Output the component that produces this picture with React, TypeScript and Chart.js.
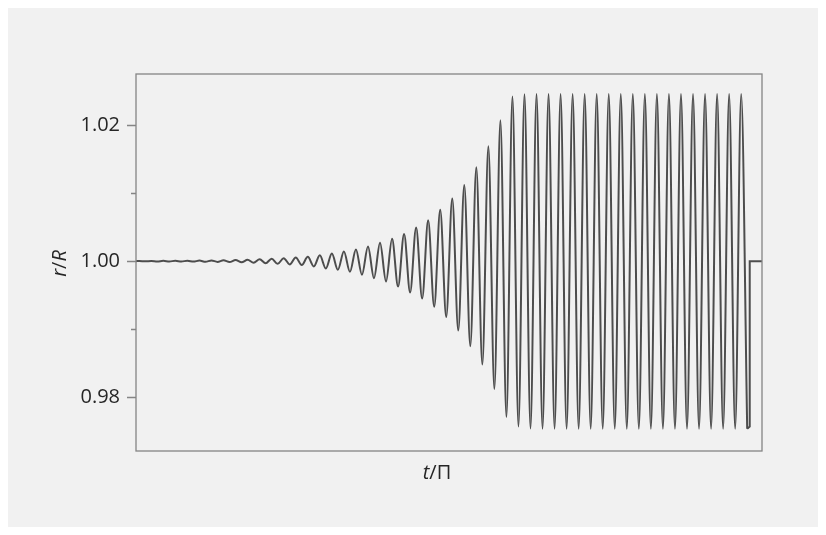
import React, { useEffect, useRef } from 'react';
import { Chart, registerables } from 'chart.js';

Chart.register(...registerables);

// ---- Data ----
// x axis in units of t/Π (oscillation periods), y axis r/R
const X_MIN = 0;
const X_MAX = 52;
const Y_MIN = 0.9721;
const Y_MAX = 1.0275;
const Y_MAJOR_TICKS = [0.98, 1.0, 1.02];
const Y_MINOR_TICKS = [0.99, 1.01];
const Y_TICK_LABELS = ['0.98', '1.00', '1.02'];

const START_TIME = 0;
const START_VALUE = 1.0;

// time of each maximum / minimum (in periods)
const PEAK_TIMES = [
  0.27, 1.27, 2.27, 3.27, 4.27, 5.27, 6.27, 7.27, 8.27, 9.27,
  10.27, 11.27, 12.27, 13.27, 14.27, 15.27, 16.27, 17.27, 18.27, 19.27,
  20.27, 21.27, 22.27, 23.27, 24.27, 25.27, 26.27, 27.27, 28.27, 29.27,
  30.27, 31.27, 32.27, 33.27, 34.27, 35.27, 36.27, 37.27, 38.27, 39.27,
  40.27, 41.27, 42.27, 43.27, 44.27, 45.27, 46.27, 47.27, 48.27, 49.27, 50.27,
];
const TROUGH_TIMES = [
  0.77, 1.77, 2.77, 3.77, 4.77, 5.77, 6.77, 7.77, 8.77, 9.77,
  10.77, 11.77, 12.77, 13.77, 14.77, 15.77, 16.77, 17.77, 18.77, 19.77,
  20.77, 21.77, 22.77, 23.77, 24.77, 25.77, 26.77, 27.77, 28.77, 29.77,
  30.77, 31.77, 32.77, 33.77, 34.77, 35.77, 36.77, 37.77, 38.77, 39.77,
  40.77, 41.77, 42.77, 43.77, 44.77, 45.77, 46.77, 47.77, 48.77, 49.77, 50.77,
];

// r/R at each maximum
const PEAK_VALUES = [
  1.00002, 1.00003, 1.00004, 1.00005, 1.00006, 1.00008, 1.0001, 1.00012, 1.00015, 1.0002,
  1.00027, 1.00035, 1.00044, 1.00052, 1.00063, 1.00085, 1.00112, 1.00142, 1.00172, 1.00216,
  1.0027, 1.00328, 1.004, 1.00495, 1.006, 1.00755, 1.0092, 1.0112, 1.0138, 1.0169,
  1.0207, 1.0242, 1.02452, 1.02455, 1.02455, 1.02456, 1.02455, 1.02455, 1.02456, 1.02455,
  1.02455, 1.02456, 1.02455, 1.02455, 1.02455, 1.02456, 1.02455, 1.02455, 1.02456, 1.02455, 1.02455,
];
// r/R at each minimum
const TROUGH_VALUES = [
  0.99997, 0.99996, 0.99995, 0.99994, 0.99993, 0.99991, 0.99989, 0.99986, 0.99982, 0.99976,
  0.99969, 0.9996, 0.99952, 0.99943, 0.99922, 0.99892, 0.99873, 0.99843, 0.998, 0.9975,
  0.997, 0.99627, 0.9954, 0.9945, 0.9933, 0.9918, 0.9898, 0.9875, 0.9848, 0.9812,
  0.9771, 0.9757, 0.9754, 0.97538, 0.97538, 0.97537, 0.97538, 0.97538, 0.97537, 0.97538,
  0.97538, 0.97537, 0.97538, 0.97538, 0.97538, 0.97537, 0.97538, 0.97538, 0.97537, 0.97538, 0.97538,
];

// final cut-off: vertical return to 1.00 and flat tail
const END_TIMES = [50.77, 50.98, 50.98, 52];
const END_VALUES = [0.97538, 0.9757, 1.0, 1.0];

const FONT = '"Open Sans", "Noto Sans", "DejaVu Sans", sans-serif';
const LINE_COLOR = '#4d4d4d';
const FRAME_COLOR = '#858585';
const TEXT_COLOR = '#262626';

function drawMixed(
  ctx: CanvasRenderingContext2D,
  parts: { text: string; italic: boolean }[],
  cx: number,
  baseline: number,
  size: number,
) {
  const widths = parts.map((p) => {
    ctx.font = `${p.italic ? 'italic ' : ''}${size}px ${FONT}`;
    return ctx.measureText(p.text).width;
  });
  const total = widths.reduce((a, b) => a + b, 0);
  let x = cx - total / 2;
  parts.forEach((p, i) => {
    ctx.font = `${p.italic ? 'italic ' : ''}${size}px ${FONT}`;
    ctx.fillText(p.text, x, baseline);
    x += widths[i];
  });
}

const framePlugin = {
  id: 'frame',
  afterDraw(chart: any) {
    const { ctx, chartArea } = chart;
    const { left, right, top, bottom } = chartArea;
    const yScale = chart.scales.y;
    ctx.save();
    ctx.strokeStyle = FRAME_COLOR;
    ctx.lineWidth = 1.3;
    ctx.strokeRect(left, top, right - left, bottom - top);
    ctx.beginPath();
    Y_MAJOR_TICKS.forEach((v) => {
      const py = Math.round(yScale.getPixelForValue(v)) + 0.5;
      ctx.moveTo(left - 9, py);
      ctx.lineTo(left, py);
    });
    Y_MINOR_TICKS.forEach((v) => {
      const py = Math.round(yScale.getPixelForValue(v)) + 0.5;
      ctx.moveTo(left - 5, py);
      ctx.lineTo(left, py);
    });
    ctx.stroke();

    ctx.fillStyle = TEXT_COLOR;
    ctx.textBaseline = 'alphabetic';
    ctx.textAlign = 'left';
    // x-axis title
    drawMixed(
      ctx,
      [
        { text: 't', italic: true },
        { text: '/', italic: false },
        { text: 'Π', italic: false },
      ],
      (left + right) / 2 - 12,
      bottom + 28,
      20,
    );
    // y-axis title (rotated)
    ctx.translate(58, (top + bottom) / 2 + 1);
    ctx.rotate(-Math.PI / 2);
    drawMixed(
      ctx,
      [
        { text: 'r', italic: true },
        { text: '/', italic: false },
        { text: 'R', italic: true },
      ],
      0,
      0,
      20,
    );
    ctx.restore();
  },
};

export default function App() {
  const canvasRef = useRef<HTMLCanvasElement | null>(null);

  useEffect(() => {
    if (!canvasRef.current) return;
    const wave: { x: number; y: number }[] = [{ x: START_TIME, y: START_VALUE }];
    PEAK_TIMES.forEach((t, i) => {
      wave.push({ x: t, y: PEAK_VALUES[i] });
      wave.push({ x: TROUGH_TIMES[i], y: TROUGH_VALUES[i] });
    });
    const tail = END_TIMES.map((t, i) => ({ x: t, y: END_VALUES[i] }));

    const chart = new Chart(canvasRef.current, {
      type: 'line',
      data: {
        datasets: [
          {
            data: wave,
            borderColor: LINE_COLOR,
            borderWidth: 2,
            pointRadius: 0,
            cubicInterpolationMode: 'monotone',
            fill: false,
          },
          {
            data: tail,
            borderColor: LINE_COLOR,
            borderWidth: 2,
            pointRadius: 0,
            tension: 0,
            fill: false,
          },
        ],
      },
      options: {
        responsive: false,
        animation: false,
        events: [],
        layout: { padding: { left: 0, top: 66, right: 56, bottom: 76 } },
        plugins: {
          legend: { display: false },
          tooltip: { enabled: false },
          title: { display: false },
        },
        scales: {
          x: {
            type: 'linear',
            min: X_MIN,
            max: X_MAX,
            display: false,
          },
          y: {
            type: 'linear',
            min: Y_MIN,
            max: Y_MAX,
            grid: { display: false, drawTicks: false },
            border: { display: false },
            afterBuildTicks: (scale: any) => {
              scale.ticks = Y_MAJOR_TICKS.map((v) => ({ value: v }));
            },
            afterFit: (scale: any) => {
              scale.width = 128;
            },
            ticks: {
              padding: 16,
              color: TEXT_COLOR,
              font: { family: FONT, size: 20 },
              callback: (value: any) => {
                const idx = Y_MAJOR_TICKS.findIndex((v) => Math.abs(v - Number(value)) < 1e-9);
                return idx >= 0 ? Y_TICK_LABELS[idx] : '';
              },
            },
          },
        },
      },
      plugins: [framePlugin],
    });
    return () => chart.destroy();
  }, []);

  return (
    <div style={{ width: 810, height: 519, background: '#f1f1f1' }}>
      <canvas ref={canvasRef} width={810} height={519} style={{ display: 'block' }} />
    </div>
  );
}
